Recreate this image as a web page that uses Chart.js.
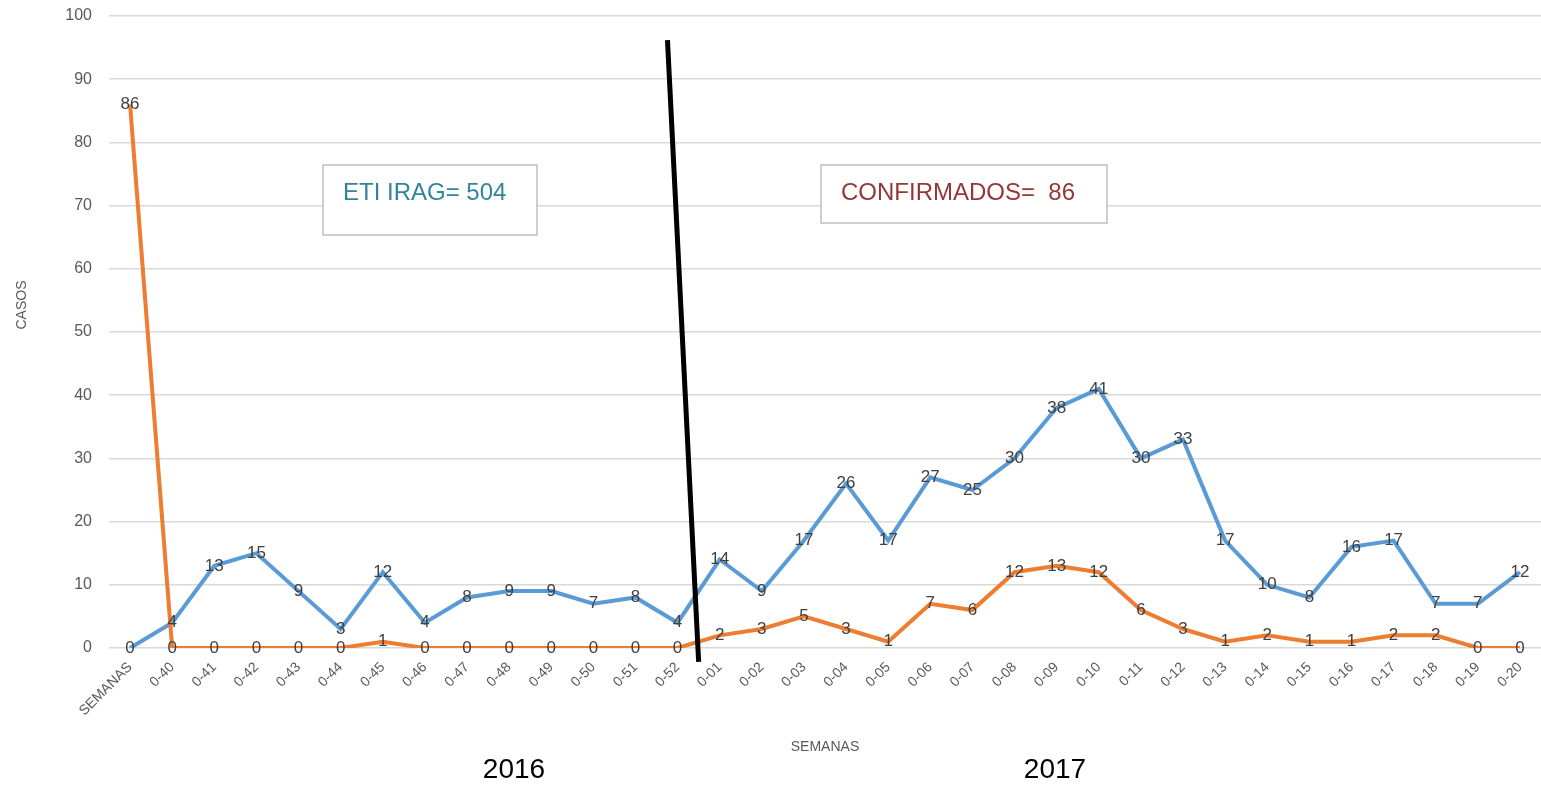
<!DOCTYPE html>
<html>
<head>
<meta charset="utf-8">
<script src="https://cdn.jsdelivr.net/npm/chart.js"></script>
<style>
	body { margin:0; background:#fff; }
	#wrap { width:1541px; height:786px; }
</style>
</head>
<body>
<div id="wrap"><canvas id="line-chart" width="1541" height="786"></canvas></div>
<script>
var semanas = ['SEMANAS','0-40','0-41','0-42','0-43','0-44','0-45','0-46','0-47','0-48','0-49','0-50','0-51','0-52',
	'0-01','0-02','0-03','0-04','0-05','0-06','0-07','0-08','0-09','0-10','0-11','0-12','0-13','0-14','0-15','0-16','0-17','0-18','0-19','0-20'];
var etiIrag = [0,4,13,15,9,3,12,4,8,9,9,7,8,4,14,9,17,26,17,27,25,30,38,41,30,33,17,10,8,16,17,7,7,12];
var confirmados = [86,0,0,0,0,0,1,0,0,0,0,0,0,0,2,3,5,3,1,7,6,12,13,12,6,3,1,2,1,1,2,2,0,0];
var yMax = 100;
var yStep = 10;
var years = ['2016','2017'];

var fontFam = "'Liberation Sans', Arial, sans-serif";

var extras = {
	id: 'extras',
	afterDatasetsDraw: function(chart)
	{
		var ctx = chart.ctx;
		var xs = chart.scales.x;
		var ys = chart.scales.y;
		var step = xs.getPixelForValue(1) - xs.getPixelForValue(0);

		// data labels, centred on the points
		ctx.save();
		ctx.font = '17px ' + fontFam;
		ctx.fillStyle = '#404040';
		ctx.textAlign = 'center';
		ctx.textBaseline = 'middle';
		chart.data.datasets.forEach(function(ds, i){
			var meta = chart.getDatasetMeta(i);
			meta.data.forEach(function(pt, j){
				ctx.fillText(String(ds.data[j]), pt.x, pt.y);
			});
		});
		ctx.restore();

		// black divider between 2016 and 2017
		var xc = xs.getPixelForValue(13);
		ctx.save();
		ctx.strokeStyle = '#000';
		ctx.lineWidth = 5;
		ctx.beginPath();
		ctx.moveTo(xc - 0.24 * step, ys.getPixelForValue(96.2));
		ctx.lineTo(xc + 0.5 * step, ys.getPixelForValue(-2.2));
		ctx.stroke();
		ctx.restore();

		// text boxes
		var drawBox = function(x, y, w, h, txt, col)
		{
			ctx.save();
			ctx.fillStyle = '#fff';
			ctx.fillRect(x, y, w, h);
			ctx.strokeStyle = '#bfbfbf';
			ctx.lineWidth = 1.5;
			ctx.strokeRect(x, y, w, h);
			ctx.font = '24px ' + fontFam;
			ctx.fillStyle = col;
			ctx.textAlign = 'left';
			ctx.textBaseline = 'middle';
			ctx.fillText(txt, x + 20, y + 28);
			ctx.restore();
		}
		drawBox(323, 165, 214, 70, 'ETI IRAG= 504', '#31849b');
		drawBox(821, 165, 286, 58, 'CONFIRMADOS=  86', '#953735');

		// y axis title
		ctx.save();
		ctx.translate(22, 305);
		ctx.rotate(-Math.PI / 2);
		ctx.font = '14px ' + fontFam;
		ctx.fillStyle = '#595959';
		ctx.textAlign = 'center';
		ctx.textBaseline = 'middle';
		ctx.fillText('CASOS', 0, 0);
		ctx.restore();

		// year labels
		ctx.save();
		ctx.font = '28px ' + fontFam;
		ctx.fillStyle = '#000';
		ctx.textAlign = 'center';
		ctx.textBaseline = 'middle';
		ctx.fillText(years[0], 514, 770);
		ctx.fillText(years[1], 1055, 770);
		ctx.restore();
	}
};

new Chart(document.getElementById('line-chart'), {
	type: 'line',
	data: {
		labels: semanas,
		datasets: [
			{
				label: 'CONFIRMADOS',
				data: confirmados,
				borderColor: '#ed7d31',
				borderWidth: 4,
				pointRadius: 0,
				tension: 0,
				order: 0
			}, {
				label: 'ETI IRAG',
				data: etiIrag,
				borderColor: '#5b9bd5',
				borderWidth: 4,
				pointRadius: 0,
				tension: 0,
				order: 1
			}
		]
	},
	options: {
		responsive: false,
		animation: false,
		layout: { padding: { top: 16, right: 0, bottom: 30, left: 0 } },
		plugins: {
			legend: { display: false },
			tooltip: { enabled: false }
		},
		scales: {
			x: {
				offset: true,
				grid: { display: false },
				border: { display: false },
				ticks: {
					color: '#595959',
					font: { size: 14, family: fontFam },
					minRotation: 45,
					maxRotation: 45,
					autoSkip: false
				},
				title: {
					display: true,
					text: 'SEMANAS',
					color: '#595959',
					font: { size: 14, family: fontFam },
					padding: 0
				},
				afterFit: function(scale){ scale.height = 108; }
			},
			y: {
				min: 0,
				max: yMax,
				grid: { color: '#d9d9d9', lineWidth: 1.5, drawTicks: false },
				border: { display: false },
				ticks: {
					stepSize: yStep,
					color: '#595959',
					padding: 17,
					font: { size: 16, family: fontFam }
				},
				afterFit: function(scale){
					scale.width = 109;
					scale.paddingTop = 0;
					scale.paddingBottom = 0;
				}
			}
		}
	},
	plugins: [extras]
});
</script>
</body>
</html>
